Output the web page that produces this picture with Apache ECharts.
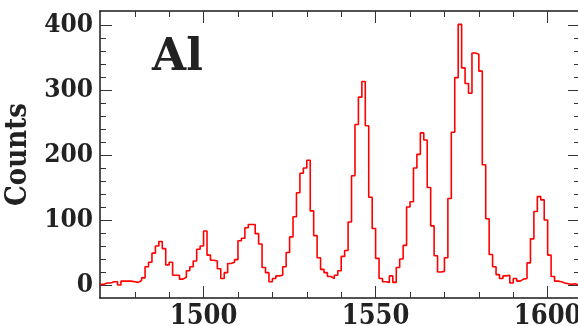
<!DOCTYPE html>
<html><head><meta charset="utf-8">
<script src="https://cdn.jsdelivr.net/npm/echarts@6/dist/echarts.min.js"></script>
<style>html,body{margin:0;padding:0;background:#fff}#c{width:578px;height:326px}</style>
</head><body><div id="c"></div>
<script>
// Histogram: 1-unit bins starting at binStart
const binStart = 1470;
const counts = [
  1, 3, 3, 5, 5, 0, 6, 6, 6, 5,
  4, 7, 11, 28, 35, 49, 60, 67, 56, 31,
  35, 15, 15, 9, 12, 22, 28, 37, 55, 60,
  83, 46, 38, 37, 25, 10, 19, 33, 35, 39,
  68, 72, 88, 93, 93, 79, 63, 27, 19, 5,
  10, 14, 15, 28, 50, 74, 105, 142, 172, 180,
  192, 114, 76, 42, 24, 19, 13, 10, 15, 22,
  44, 53, 97, 168, 247, 289, 313, 245, 135, 87,
  41, 10, 5, 4, 14, 4, 27, 40, 61, 120,
  128, 180, 201, 234, 223, 150, 91, 45, 20, 21,
  42, 133, 235, 319, 401, 334, 310, 295, 357, 355,
  329, 185, 102, 47, 28, 16, 10, 14, 15, 3,
  10, 6, 9, 10, 34, 71, 113, 136, 131, 100,
  46, 13, 6, 5, 3, 2, 1, 2, 0
];
const xMajor = [1500, 1550, 1600];
const xMinor = [1480, 1490, 1510, 1520, 1530, 1540, 1560, 1570, 1580, 1590];
const yMajor = [0, 100, 200, 300, 400];
const yMinor = [20, 40, 60, 80, 120, 140, 160, 180, 220, 240, 260, 280, 320, 340, 360, 380];
const panelLabel = 'Al';
const yTitle = 'Counts';

const FONT = '"DejaVu Serif Condensed","DejaVu Serif",serif';
const XMIN = 1469.9, XMAX = 1609.4, YMIN = -20, YMAX = 421.5;

const data = counts.map((c, i) => [binStart + i, c]);
data.push([binStart + counts.length, counts[counts.length - 1]]);

const lineCol = '#1a1a1a';
const plain = v => String(v);
function xAx(pos, ticks, len, withLine, withLabels) {
  return {
    type: 'value', position: pos, min: XMIN, max: XMAX,
    axisLine: { show: withLine, onZero: false, lineStyle: { color: lineCol, width: 1.5 } },
    axisTick: { show: true, inside: true, length: len, customValues: ticks, lineStyle: { color: '#333', width: 1 } },
    axisLabel: withLabels ? { show: true, customValues: ticks, margin: 5, color: '#222', formatter: plain,
      fontFamily: FONT, fontWeight: 'bold', fontSize: 27, hideOverlap: false } : { show: false },
    splitLine: { show: false }
  };
}
function yAx(pos, ticks, len, withLine, withLabels) {
  const o = {
    type: 'value', position: pos, min: YMIN, max: YMAX,
    axisLine: { show: withLine, onZero: false, lineStyle: { color: lineCol, width: 1.5 } },
    axisTick: { show: true, inside: true, length: len, customValues: ticks, lineStyle: { color: '#333', width: 1 } },
    axisLabel: withLabels ? { show: true, customValues: ticks, margin: 7, color: '#222', formatter: plain,
      fontFamily: FONT, fontWeight: 'bold', fontSize: 26 } : { show: false },
    splitLine: { show: false }
  };
  if (withLabels) {
    o.name = yTitle; o.nameLocation = 'middle'; o.nameGap = 63; o.nameRotate = 90;
    o.nameTextStyle = { fontFamily: FONT, fontWeight: 'bold', fontSize: 29, color: '#222' };
  }
  return o;
}

const chart = echarts.init(document.getElementById('c'), null, { renderer: 'canvas' });
chart.setOption({
  animation: false,
  backgroundColor: '#fff',
  grid: { left: 100, top: 11, width: 480, height: 287, containLabel: false, outerBoundsMode: 'none' },
  xAxis: [
    xAx('bottom', xMajor, 12, true, true),
    xAx('bottom', xMinor, 6, false, false),
    xAx('top', xMajor, 12, true, false),
    xAx('top', xMinor, 6, false, false)
  ],
  yAxis: [
    yAx('left', yMajor, 12, true, true),
    yAx('left', yMinor, 6, false, false),
    yAx('right', yMajor, 12, true, false),
    yAx('right', yMinor, 6, false, false)
  ],
  graphic: [{
    type: 'text', left: 152, top: 37,
    style: { text: panelLabel, font: 'bold 44px "DejaVu Serif", serif', fill: '#222' }
  }],
  series: [{
    type: 'line', step: 'end', data: data, symbol: 'none', clip: true,
    xAxisIndex: 0, yAxisIndex: 0,
    lineStyle: { color: '#ff0000', width: 1.6 }
  }]
});
</script></body></html>
